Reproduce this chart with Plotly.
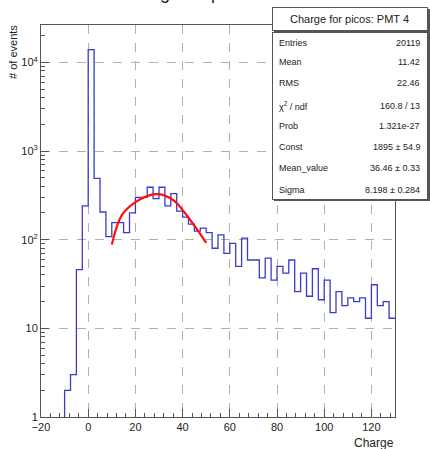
import plotly.graph_objects as go

# ---------------- data ----------------
bin_low = -20.0
bin_width = 2.5
counts = [0, 0, 0, 0, 2, 3, 46, 240, 13900, 490,
          205, 108, 156, 156, 120, 200, 300, 300, 390, 290,
          390, 240, 330, 210, 180, 150, 125, 135, 120, 80,
          113, 70, 91, 50, 104, 59, 59, 37, 62, 35,
          50, 42, 59, 26, 42, 23, 47, 21, 35, 15,
          26, 18, 22, 20, 22, 13, 31, 18, 20, 13]

fit_x = [10, 14.3, 20, 25, 28.5, 32, 36.7, 41, 45.4, 50]
fit_y = [88, 190, 265, 310, 326, 318, 270, 200, 139, 92]

x_ticks = [-20, 0, 20, 40, 60, 80, 100, 120]
y_ticks = [1, 10, 100, 1000, 10000]
y_ticktext = ["1", "10", "10<sup>2</sup>", "10<sup>3</sup>", "10<sup>4</sup>"]

title_text = "Charge for picos: PMT 4"
stats_rows = [
    ("Entries", "20119"),
    ("Mean", "11.42"),
    ("RMS", "22.46"),
    ("\u03c7<sup>2</sup> / ndf", "160.8 / 13"),
    ("Prob", "1.321e-27"),
    ("Const", "1895 \u00b1 54.9"),
    ("Mean_value", "36.46 \u00b1 0.33"),
    ("Sigma", "8.198 \u00b1 0.284"),
]

# ---------------- build step outline ----------------
edges = [bin_low + i * bin_width for i in range(len(counts) + 1)]
first = next(i for i, c in enumerate(counts) if c > 0)
sx = [edges[first]]
sy = [0.1]
for i in range(first, len(counts)):
    sx.append(edges[i])
    sy.append(counts[i])
sx.append(edges[-1])
sy.append(counts[-1])

W, H = 430, 449
L, R, T, B = 41, 395, 25, 416.7


def px(x):
    return (x - L) / (R - L)


def py(y):
    return (B - y) / (B - T)


fig = go.Figure()
fig.add_trace(go.Scatter(x=sx, y=sy, mode="lines", line_shape="hv",
                         line=dict(color="#3a3acc", width=1.3),
                         hoverinfo="skip", showlegend=False))
fig.add_trace(go.Scatter(x=fit_x, y=fit_y, mode="lines", line_shape="spline",
                         line=dict(color="#ff1010", width=2.2),
                         hoverinfo="skip", showlegend=False))

font = "Liberation Sans, Arial, sans-serif"
minor_y = [m * 10 ** d for d in range(0, 5) for m in range(2, 10) if m * 10 ** d < 27000]

fig.update_layout(
    width=W, height=H,
    margin=dict(l=L, r=W - R, t=T, b=H - B),
    paper_bgcolor="white", plot_bgcolor="white",
    font=dict(family=font, size=11, color="#222"),
    xaxis=dict(range=[-20, 130], tickvals=x_ticks, ticks="inside", ticklen=8,
               tickcolor="#555", showline=True, linecolor="#555", linewidth=1,
               mirror=True, showgrid=True, gridcolor="#b0b0b0", griddash="dash",
               gridwidth=1, zeroline=False,
               tickfont=dict(size=11, family=font, color="#222"),
               minor=dict(dtick=4, tick0=0, ticks="inside", ticklen=4, tickcolor="#555",
                          showgrid=False)),
    yaxis=dict(type="log", range=[0, 4.421], tickvals=y_ticks, ticktext=y_ticktext,
               ticks="inside", ticklen=8, tickcolor="#555", showline=True,
               linecolor="#555", linewidth=1, mirror=True, showgrid=True,
               gridcolor="#b0b0b0", griddash="dash", gridwidth=1, zeroline=False,
               tickfont=dict(size=11, family=font, color="#222"),
               minor=dict(tickvals=minor_y, ticks="inside", ticklen=4, tickcolor="#555",
                          showgrid=False)),
)

ann = []
# title (partly hidden by the stats box)
ann.append(dict(text=title_text, x=px(218), y=py(5.5), xref="paper", yref="paper",
                xanchor="center", yanchor="bottom", showarrow=False,
                font=dict(size=18, family=font, color="#222")))
# axis titles
ann.append(dict(text="# of events", x=px(13), y=py(23), xref="paper", yref="paper",
                xanchor="center", yanchor="top", textangle=-90, showarrow=False,
                font=dict(size=11, family=font, color="#222")))
ann.append(dict(text="Charge", x=px(396), y=py(443), xref="paper", yref="paper",
                xanchor="right", yanchor="middle", showarrow=False,
                font=dict(size=12, family=font, color="#222")))

# stats box: shadow, header, body
bx0, bx1, by0, bsep, by1 = 271.7, 428, 7.3, 31.7, 199.3
ann.append(dict(text=" ", x=px(bx0 + 2), y=py(by0 + 2), xref="paper", yref="paper",
                xanchor="left", yanchor="top", showarrow=False,
                width=bx1 - bx0 - 2, height=by1 - by0 - 2, borderpad=0,
                bgcolor="#555", bordercolor="#555", borderwidth=1))
ann.append(dict(text=" ", x=px(bx0), y=py(by0), xref="paper", yref="paper",
                xanchor="left", yanchor="top", showarrow=False,
                width=bx1 - bx0 - 2, height=bsep - by0 - 2, borderpad=0,
                bgcolor="white", bordercolor="#555", borderwidth=1))
ann.append(dict(text=" ", x=px(bx0), y=py(bsep), xref="paper", yref="paper",
                xanchor="left", yanchor="top", showarrow=False,
                width=bx1 - bx0 - 2, height=by1 - bsep - 2, borderpad=0,
                bgcolor="white", bordercolor="#555", borderwidth=1))
ann.append(dict(text=title_text, x=px((bx0 + bx1) / 2), y=py(19.5), xref="paper",
                yref="paper", xanchor="center", yanchor="middle", showarrow=False,
                font=dict(size=11, family=font, color="#222")))
row_y = [42.7, 62.3, 83.3, 106, 126, 146.7, 168.3, 190]
for (lab, val), yy in zip(stats_rows, row_y):
    ann.append(dict(text=lab, x=px(276.5), y=py(yy), xref="paper", yref="paper",
                    xanchor="left", yanchor="middle", showarrow=False,
                    font=dict(size=9, family=font, color="#222")))
    ann.append(dict(text=val, x=px(422), y=py(yy), xref="paper", yref="paper",
                    xanchor="right", yanchor="middle", showarrow=False,
                    font=dict(size=9, family=font, color="#222")))
fig.update_layout(annotations=ann)

fig.write_html("out.html")
